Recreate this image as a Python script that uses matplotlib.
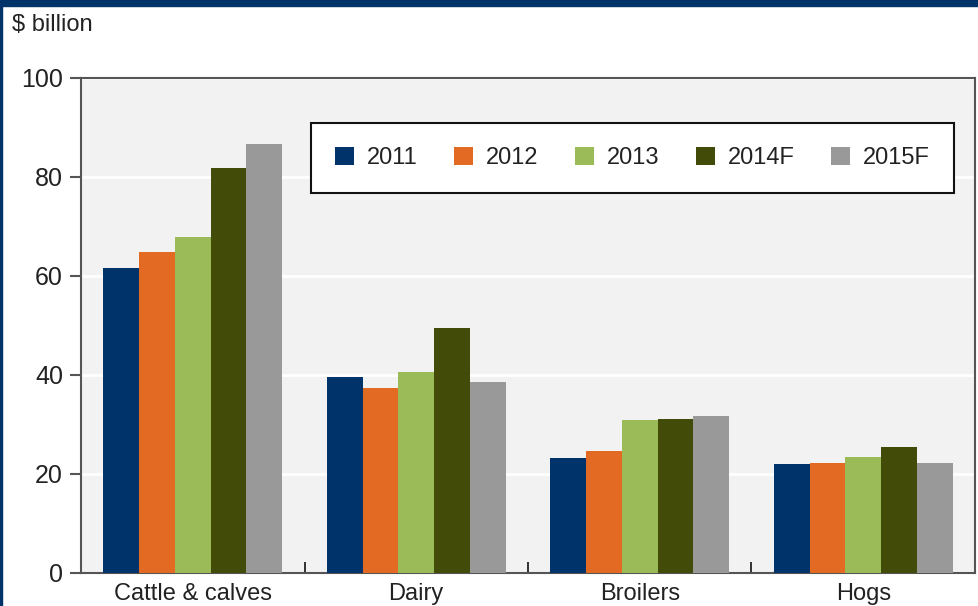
import matplotlib
matplotlib.use("Agg")
import matplotlib.pyplot as plt
import numpy as np
from matplotlib.patches import Rectangle

categories = ["Cattle & calves", "Dairy", "Broilers", "Hogs"]
series_names = ["2011", "2012", "2013", "2014F", "2015F"]
v2011 = [61.5, 39.6, 23.2, 21.9]
v2012 = [64.7, 37.3, 24.7, 22.3]
v2013 = [67.9, 40.5, 30.8, 23.5]
v2014 = [81.7, 49.4, 31.1, 25.5]
v2015 = [86.5, 38.5, 31.7, 22.3]
yticks = [0, 20, 40, 60, 80, 100]

series = [v2011, v2012, v2013, v2014, v2015]
colors = ["#00336a", "#e36a22", "#9bbb59", "#424c08", "#999999"]

plt.rcParams['font.family'] = ['Liberation Sans', 'DejaVu Sans']
W, H = 979, 606
fig = plt.figure(figsize=(W / 100, H / 100), dpi=100)
fig.patch.set_facecolor("white")

ax = fig.add_axes([81 / W, 1 - 573 / H, (975 - 81) / W, (573 - 77.5) / H])
ax.set_facecolor("#f2f2f2")

x = np.arange(len(categories))
bw = 0.16
for i, (vals, c, name) in enumerate(zip(series, colors, series_names)):
    ax.bar(x + (i - 2) * bw, vals, width=bw, color=c, label=name, zorder=3,
           linewidth=0)

ax.set_xlim(-0.5, len(categories) - 0.5)
ax.set_ylim(0, 100)
ax.set_yticks(yticks)
ax.set_yticklabels([str(t) for t in yticks])
ax.yaxis.grid(True, color="white", linewidth=2, zorder=1)
ax.set_axisbelow(True)

ax.set_xticks([0.5, 1.5, 2.5])
ax.set_xticklabels([])
ax.set_xticks(x, minor=True)
ax.set_xticklabels(categories, minor=True)
ax.tick_params(axis="x", which="major", direction="in", length=8, width=1.3, color="#222222")
ax.tick_params(axis="x", which="minor", length=0, pad=7, labelsize=17, labelcolor="#222222")
ax.tick_params(axis="y", direction="out", length=8, width=1.5, color="#555555",
               pad=5, labelsize=18, labelcolor="#222222")
for s in ax.spines.values():
    s.set_color("#555555")
    s.set_linewidth(1.5)

leg = ax.legend(ncol=5, loc="center", bbox_to_anchor=((313 + 952) / 2 / W, 1 - 158 / H),
                bbox_transform=fig.transFigure, fontsize=17, frameon=True,
                fancybox=False, edgecolor="#111111", facecolor="white", framealpha=1,
                handlelength=0.8, handleheight=0.8, handletextpad=0.55,
                columnspacing=1.55, borderpad=1.0)
leg.get_frame().set_linewidth(1.5)
for t in leg.get_texts():
    t.set_color("#222222")

fig.text(12 / W, 1 - 25 / H, "$ billion", fontsize=17, color="#222222",
         ha="left", va="center")

# dark blue frame
fig.patches.append(Rectangle((0, 1 - 6 / H), 1, 6 / H, transform=fig.transFigure,
                             color="#00336a", zorder=10))
fig.patches.append(Rectangle((0, 0), 2.5 / W, 1, transform=fig.transFigure,
                             color="#00336a", zorder=10))

fig.savefig("out.png", dpi=100)
